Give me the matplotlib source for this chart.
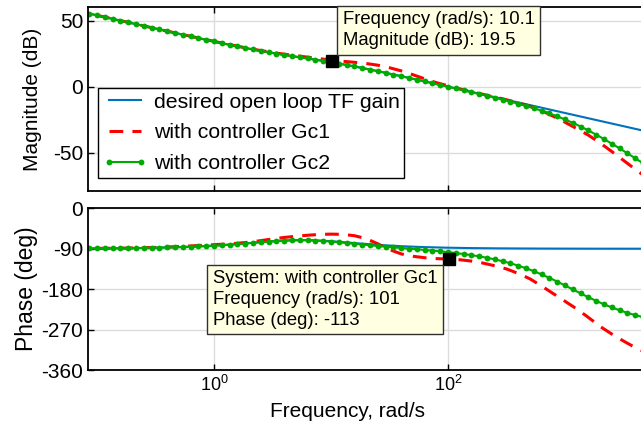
import matplotlib
matplotlib.use('Agg')
import matplotlib.pyplot as plt
from matplotlib.ticker import FixedLocator, NullLocator, LogFormatterSciNotation

plt.rcParams['font.family'] = ['Liberation Sans', 'DejaVu Sans']
plt.rcParams['mathtext.fontset'] = 'custom'
plt.rcParams['mathtext.rm'] = 'Liberation Sans'
plt.rcParams['axes.unicode_minus'] = False

# desired open loop TF gain (coarse frequency grid, rad/s)
w_des = [0.0631, 0.1, 0.1585, 0.2512, 0.3981, 0.631, 1.0, 1.585, 2.512, 3.981, 6.31, 10.0, 15.85,
         25.12, 39.81, 63.1, 100.0, 158.5, 251.2, 398.1, 631.0, 1000.0, 1585.0, 2512.0, 3981.0, 6310.0]
mag_des = [58.08, 54.08, 50.09, 46.09, 42.11, 38.16, 34.28, 30.55, 27.12, 24.11, 21.41, 18.60, 15.38,
           11.79, 7.97, 4.05, 0.08, -3.90, -7.90, -11.90, -15.90, -19.90, -23.90, -27.90, -31.90, -35.90]
ph_des = [-89.55, -89.28, -88.87, -88.21, -87.17, -85.55, -83.09, -79.59, -75.30, -71.58, -70.64, -73.14, -77.37,
          -81.39, -84.38, -86.40, -87.72, -88.56, -89.09, -89.42, -89.64, -89.77, -89.86, -89.91, -89.94, -89.96]

# with controller Gc1
w_gc1 = [0.0631, 0.0794, 0.1, 0.1259, 0.1585, 0.1995, 0.2512, 0.3162, 0.3981, 0.5012, 0.631, 0.7943,
         1.0, 1.259, 1.585, 1.995, 2.512, 3.162, 3.981, 5.012, 6.31, 7.943, 10.0, 12.59, 15.85, 19.95,
         25.12, 31.62, 39.81, 50.12, 63.1, 79.43, 100.0, 125.9, 158.5, 199.5, 251.2, 316.2, 398.1, 501.2,
         631.0, 794.3, 1000.0, 1259.0, 1585.0, 1995.0, 2512.0, 3162.0, 3981.0, 5012.0, 6310.0]
mag_gc1 = [58.1, 56.1, 54.1, 52.1, 50.1, 48.1, 46.1, 44.1, 42.1, 40.15, 38.2, 36.3,
           34.35, 32.5, 30.7, 28.95, 27.4, 25.95, 24.65, 23.5, 22.4, 21.3, 20.2, 19.3, 18.5, 17.6,
           16.3, 14.4, 12.0, 9.1, 6.0, 3.1, 0.7, -1.6, -3.8, -5.8, -7.8, -9.9, -12.2, -14.9,
           -18.1, -22.4, -26.9, -31.7, -36.7, -42.6, -49.1, -55.8, -62.5, -69.0, -75.5]
ph_gc1 = [-89.6, -89.4, -89.2, -89.0, -88.7, -88.3, -87.8, -87.1, -86.2, -85.1, -83.8, -82.4,
          -81.0, -79.6, -77.8, -75.4, -72.0, -68.2, -64.9, -62.3, -60.0, -58.2, -57.5, -58.0, -61.0, -67.5,
          -79.0, -92.0, -101.5, -106.8, -110.0, -112.0, -113.0, -114.5, -117.5, -122.0, -128.0, -135.0,
          -145.0, -157.0, -173.0, -190.0, -207.0, -224.0, -243.0, -263.0, -280.0, -295.5, -310.0, -322.0, -333.0]

# with controller Gc2 (one marker per sample)
w_gc2 = [0.0736, 0.0858, 0.1, 0.1166, 0.1359, 0.1585, 0.1848, 0.2154, 0.2512, 0.2929, 0.3415, 0.3981,
         0.4642, 0.5412, 0.631, 0.7356, 0.8577, 1.0,
         1.166, 1.359, 1.585, 1.848, 2.154, 2.512, 2.929, 3.415, 3.981, 4.642, 5.412, 6.31, 7.356, 8.577, 10.0,
         11.66, 13.59, 15.85, 18.48, 21.54, 25.12, 29.29, 34.15, 39.81, 46.42, 54.12, 63.1, 73.56, 85.77, 100.0,
         116.6, 135.9, 158.5, 184.8, 215.4, 251.2, 292.9, 341.5, 398.1, 464.2, 541.2, 631.0, 735.6, 857.7, 1000.0,
         1166.0, 1359.0, 1585.0, 1848.0, 2154.0, 2512.0, 2929.0, 3415.0, 3981.0, 4642.0]
mag_gc2 = [56.75, 55.41, 54.08, 52.75, 51.42, 50.09, 48.75, 47.42, 46.09, 44.76, 43.44, 42.11,
           40.79, 39.47, 38.16, 36.86, 35.56, 34.28,
           33.01, 31.76, 30.55, 29.36, 28.21, 27.12, 26.07, 25.06, 24.11, 23.19, 22.30, 21.41, 20.50, 19.57, 18.59,
           17.57, 16.50, 15.38, 14.22, 13.02, 11.79, 10.53, 9.25, 7.96, 6.66, 5.34, 4.02, 2.69, 1.36, 0.01,
           -1.34, -2.70, -4.07, -5.46, -6.87, -8.31, -9.78, -11.30, -12.88, -14.56, -16.30, -18.19, -20.22, -22.41, -24.79,
           -27.37, -30.16, -33.15, -36.31, -39.65, -43.12, -46.72, -50.41, -54.17, -57.99]
ph_gc2 = [-89.47, -89.39, -89.28, -89.17, -89.03, -88.87, -88.68, -88.46, -88.21, -87.91, -87.56, -87.17,
          -86.70, -86.17, -85.55, -84.84, -84.03, -83.19,
          -82.16, -81.00, -79.75, -78.39, -76.98, -75.55, -74.18, -72.97, -71.98, -71.33, -71.09, -71.27, -71.86, -72.84, -74.14,
          -75.64, -77.27, -78.95, -80.64, -82.29, -83.89, -85.42, -86.89, -88.35, -89.77, -91.21, -92.68, -94.22, -95.87, -97.66,
          -99.63, -101.80, -104.25, -107.02, -110.16, -113.73, -117.80, -122.42, -127.60, -133.47, -139.98, -147.14, -154.89, -163.13, -171.77,
          -180.60, -189.33, -197.96, -206.08, -213.69, -220.71, -227.02, -232.73, -237.84, -242.05]

# data tips
tip_mag = (10.1, 19.5)
tip_ph = (101, -113)

mag_ticks = [-50, 0, 50]
ph_ticks = [-360, -270, -180, -90, 0]

c_blue = '#0072bd'
c_red = '#ff0000'
c_green = '#00aa00'
tip_face = '#ffffe1'

fig = plt.figure(figsize=(6.41, 4.23), dpi=100)
ax_mag = fig.add_axes([88 / 641, 1 - 191 / 423, 594 / 641, 184 / 423])
ax_ph = fig.add_axes([88 / 641, 1 - 370 / 423, 594 / 641, 161.7 / 423])

for ax in (ax_mag, ax_ph):
    ax.set_xscale('log')
    ax.set_xlim(10 ** -1.077, 1e4)
    ax.xaxis.set_major_locator(FixedLocator([1, 100]))
    ax.xaxis.set_minor_locator(NullLocator())
    ax.xaxis.set_major_formatter(LogFormatterSciNotation())
    ax.grid(True, color='#dcdcdc', linewidth=1.0)
    ax.set_axisbelow(True)
    ax.tick_params(direction='in', length=4.5, width=1.0, top=True, right=True,
                   labelsize=15, colors='black')
    ax.tick_params(axis='x', labelsize=13)
    for sp in ax.spines.values():
        sp.set_linewidth(1.3)
        sp.set_color('black')

# magnitude
ax_mag.plot(w_des, mag_des, color=c_blue, lw=1.5, label='desired open loop TF gain')
ax_mag.plot(w_gc1, mag_gc1, color=c_red, lw=2.2, dashes=(4.5, 3.0), label='with controller Gc1')
ax_mag.plot(w_gc2, mag_gc2, color=c_green, lw=1.5, marker='o', ms=4.2, mew=0,
            label='with controller Gc2')
ax_mag.set_ylim(-79, 60.4)
ax_mag.set_yticks(mag_ticks)
ax_mag.tick_params(axis='x', labelbottom=False)
ax_mag.set_ylabel('Magnitude (dB)', fontsize=15)
ax_mag.yaxis.set_label_coords(-0.077, 0.5)

ax_mag.plot(*tip_mag, 's', color='black', ms=8, zorder=6)
ax_mag.annotate(f'Frequency (rad/s): {tip_mag[0]}\nMagnitude (dB): {tip_mag[1]}',
                xy=tip_mag, xytext=(11, 12), textcoords='offset pixels',
                ha='left', va='bottom', fontsize=13.3, linespacing=1.3,
                bbox=dict(boxstyle='square,pad=0.3', fc=tip_face, ec='#303030', lw=1.0),
                zorder=7)

leg = ax_mag.legend(loc='upper left', bbox_to_anchor=(0.0168, 0.56), borderaxespad=0,
                    fontsize=15.3, frameon=True, fancybox=False, edgecolor='black', framealpha=1,
                    handlelength=2.1, handletextpad=0.3, borderpad=0.22, labelspacing=0.55,
                    numpoints=2)
leg.get_frame().set_linewidth(1.0)
leg.set_zorder(8)

# phase
ax_ph.plot(w_des, ph_des, color=c_blue, lw=1.5)
ax_ph.plot(w_gc1, ph_gc1, color=c_red, lw=2.2, dashes=(4.5, 3.0))
ax_ph.plot(w_gc2, ph_gc2, color=c_green, lw=1.5, marker='o', ms=4.2, mew=0)
ax_ph.set_ylim(-360, 0)
ax_ph.set_yticks(ph_ticks)
ax_ph.set_ylabel('Phase (deg)', fontsize=16.5)
ax_ph.yaxis.set_label_coords(-0.085, 0.5)
ax_ph.set_xlabel('Frequency, rad/s', fontsize=15)
ax_ph.xaxis.set_label_coords(0.4377, -0.195)

ax_ph.plot(*tip_ph, 's', color='black', ms=8, zorder=6)
ax_ph.annotate(f'System: with controller Gc1\nFrequency (rad/s): {tip_ph[0]}\nPhase (deg): {tip_ph[1]}',
               xy=tip_ph, xytext=(-11, -11), textcoords='offset pixels',
               ha='right', va='top', multialignment='left', fontsize=13.3, linespacing=1.3,
               bbox=dict(boxstyle='square,pad=0.3', fc=tip_face, ec='#303030', lw=1.0),
               zorder=7)

fig.savefig('out.png', dpi=100)
